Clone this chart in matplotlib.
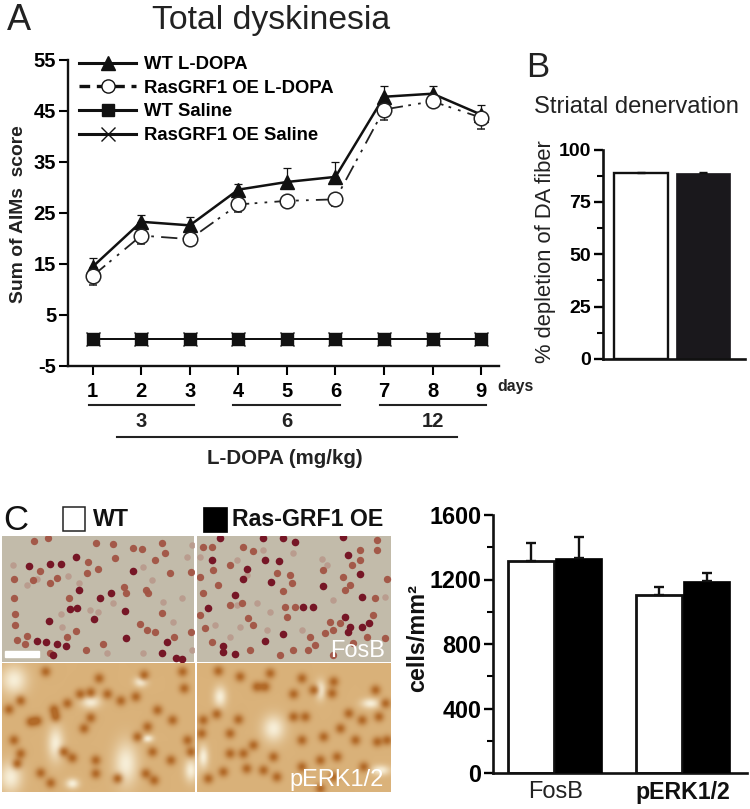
import numpy as np
import matplotlib
matplotlib.use('Agg')
import matplotlib.pyplot as plt
from matplotlib.lines import Line2D
from matplotlib.patches import Rectangle

plt.rcParams['font.family'] = ['Liberation Sans', 'DejaVu Sans']
plt.rcParams['axes.unicode_minus'] = False

W, H = 750, 809

# --- panel A data ---
days = [1, 2, 3, 4, 5, 6, 7, 8, 9]
wt_ldopa = [14.4, 23.2, 22.5, 29.5, 31.0, 32.0, 47.7, 48.3, 44.2]
wt_ldopa_err = [1.8, 1.4, 1.7, 1.2, 2.8, 3.0, 2.1, 1.5, 1.8]
oe_ldopa = [12.6, 20.5, 19.8, 26.6, 27.3, 27.6, 45.2, 46.8, 43.6]
oe_ldopa_err = [1.8, 1.7, 1.2, 1.5, 1.2, 1.4, 2.1, 1.0, 2.2]
wt_saline = [0.2, 0.2, 0.2, 0.2, 0.2, 0.2, 0.2, 0.2, 0.2]
oe_saline = [0.2, 0.2, 0.2, 0.2, 0.2, 0.2, 0.2, 0.2, 0.2]
legend_labels = ['WT L-DOPA', 'RasGRF1 OE L-DOPA', 'WT Saline', 'RasGRF1 OE Saline']
a_yticks = [-5, 5, 15, 25, 35, 45, 55]

# --- panel B data ---
depletion = [89.0, 89.0]
depletion_err = [0.4, 0.4]
b_yticks = [0, 25, 50, 75, 100]

# --- panel C bars ---
markers_c = ['FosB', 'pERK1/2']
cells_wt = [1315, 1103]
cells_wt_err = [109, 53]
cells_oe = [1336, 1191]
cells_oe_err = [126, 52]
c_yticks = [0, 400, 800, 1200, 1600]

# --- micrographs, nuclei (3x crop coordinates) ---
fos_dark = [(88, 228), (150, 222), (184, 222), (229, 200), (400, 242), (237, 300), (299, 324), (333, 310),
            (375, 362), (148, 392), (378, 445), (501, 455), (485, 490), (160, 495), (527, 505), (547, 508),
            (112, 452), (138, 455), (199, 467), (172, 463), (283, 388), (230, 354), (210, 356),
            (635, 210), (660, 145), (742, 237), (838, 213), (795, 210), (730, 268), (812, 275), (705, 315),
            (625, 355), (970, 287), (1087, 320), (910, 350), (940, 352), (1108, 400), (1050, 410), (1043, 425),
            (1085, 410), (850, 432), (795, 452), (668, 467), (670, 487), (705, 493), (1043, 195), (1080, 253),
            (1035, 380), (1030, 140), (790, 145), (850, 143), (885, 155)]
fos_mid = [(42, 267), (42, 325), (44, 372), (44, 405), (52, 450), (76, 463), (82, 437), (120, 243), (100, 270),
           (150, 280), (172, 263), (208, 325), (260, 250), (295, 237), (345, 205), (288, 160), (340, 162),
           (400, 175), (426, 178), (495, 188), (465, 210), (485, 160), (145, 143), (102, 153), (265, 215),
           (574, 245), (510, 250), (372, 290), (378, 310), (437, 300), (445, 310), (485, 368), (420, 403),
           (440, 420), (465, 425), (523, 440), (573, 425), (310, 462), (258, 480), (228, 422), (200, 442),
           (150, 490), (610, 170), (635, 170), (730, 172), (760, 183), (690, 226), (640, 240), (600, 262),
           (655, 285), (610, 310), (725, 340), (690, 345), (830, 248), (870, 255), (875, 280), (850, 302),
           (855, 350), (885, 350), (970, 240), (1030, 260), (1050, 285), (1035, 300), (1055, 225), (1080, 210),
           (1130, 180), (1130, 150), (1160, 268), (1125, 325), (1120, 375), (1080, 180), (990, 395), (1020, 400),
           (1000, 420), (930, 440), (945, 465), (925, 480), (975, 430), (1155, 445), (1100, 440), (1060, 460),
           (635, 455), (615, 415), (600, 375), (760, 405), (745, 385), (860, 380), (750, 480), (880, 480),
           (1000, 495), (840, 495)]
fos_light = [(40, 225), (205, 258), (236, 280), (80, 285), (110, 268), (183, 372), (270, 360), (295, 365),
             (185, 412), (340, 340), (490, 335), (545, 325), (430, 232), (560, 200), (575, 165), (455, 270),
             (520, 395), (575, 480), (320, 490), (430, 490), (710, 210), (790, 180), (880, 190), (965, 208),
             (980, 225), (645, 405), (710, 345), (770, 340), (740, 255), (810, 365), (600, 200), (1000, 330),
             (1155, 320), (690, 440), (800, 420), (720, 410), (905, 420)]
erk_nuclei = [(60, 632), (110, 692), (90, 695), (550, 595), (515, 690), (360, 632), (320, 612), (270, 607),
              (238, 612), (160, 658), (135, 545), (200, 640), (250, 715), (270, 683), (295, 565), (470, 660),
              (440, 710), (410, 740), (40, 750), (60, 790), (50, 820), (120, 848), (150, 878), (215, 803),
              (190, 785), (285, 810), (285, 850), (350, 865), (435, 850), (460, 870), (510, 810), (455, 785),
              (560, 750), (570, 785), (405, 620), (430, 555), (545, 545), (165, 680), (25, 658),
              (655, 543), (720, 560), (810, 550), (795, 590), (770, 590), (880, 612), (940, 600), (995, 610),
              (1000, 575), (905, 565), (1125, 600), (1155, 640), (650, 672), (715, 688), (610, 690), (605, 730),
              (690, 730), (760, 765), (730, 790), (690, 790), (820, 800), (905, 750), (915, 680), (880, 680),
              (1045, 670), (1085, 690), (1135, 680), (1020, 715), (970, 740), (1065, 750), (1130, 755),
              (1160, 750), (670, 845), (625, 865), (740, 835), (790, 840), (830, 860), (905, 830), (960, 810),
              (1010, 800), (1090, 830), (1000, 860), (960, 895)]
erk_pale = [(40, 570, 28, 30), (165, 760, 17, 36), (375, 820, 25, 45), (30, 860, 24, 32), (570, 840, 14, 24),
            (270, 635, 20, 14), (420, 575, 14, 11), (215, 880, 14, 11), (440, 745, 12, 8),
            (820, 715, 24, 28), (660, 620, 14, 22), (1110, 640, 20, 11), (610, 800, 11, 24), (960, 600, 11, 20),
            (1140, 840, 20, 11)]


def px_axes(x0, y0, x1, y1):
    # axes from a box given in picture pixels (y down)
    return fig.add_axes([x0 / W, 1 - y1 / H, (x1 - x0) / W, (y1 - y0) / H])


def px_text(x, y, s, **kw):
    kw.setdefault('ha', 'center')
    kw.setdefault('va', 'center')
    return fig.text(x / W, 1 - y / H, s, **kw)


def px_line(x0, x1, y, lw=1.5):
    fig.add_artist(Line2D([x0 / W, x1 / W], [1 - y / H, 1 - y / H], color='#222222', lw=lw))


def style_axes(ax, lw=1.7):
    for side in ['top', 'right']:
        ax.spines[side].set_visible(False)
    for side in ['left', 'bottom']:
        ax.spines[side].set_linewidth(lw)
        ax.spines[side].set_color('#111111')
    ax.patch.set_alpha(0)


fig = plt.figure(figsize=(W / 100, H / 100), dpi=100)

# --- panel A ---
ax = px_axes(68, 59.5, 499, 365.7)
style_axes(ax)
ax.set_ylim(-5, 55)
ax.set_xlim(1 - (92.7 - 68) / 48.55, 1 + (499 - 92.7) / 48.55)
ax.set_yticks(a_yticks)
ax.set_xticks(days)
ax.tick_params(axis='y', length=6.5, width=1.5, labelsize=14.5, pad=2)
ax.tick_params(axis='x', length=6.5, width=1.5, labelsize=14.5, pad=5)
for lab in ax.get_xticklabels() + ax.get_yticklabels():
    lab.set_fontweight('bold')

ax.errorbar(days, oe_ldopa, yerr=[oe_ldopa_err, [0] * 9], color='#222222', lw=1.3, capsize=3.2, capthick=0.9,
            elinewidth=0.9, dashes=(9, 3, 1.5, 4, 1.5, 4), marker='o', ms=10.5, mfc='white', mec='#222222',
            mew=1.1, zorder=4)
ax.errorbar(days, wt_ldopa, yerr=[[0] * 9, wt_ldopa_err], color='#111111', lw=1.8, capsize=3.2, capthick=0.9,
            elinewidth=0.9, marker='^', ms=9.5, mfc='#111111', mec='#111111', zorder=3)
ax.plot(days, oe_saline, color='#111111', lw=1.4, marker='x', ms=10, mew=1.0, zorder=3)
ax.plot(days, wt_saline, color='#111111', lw=1.4, marker='s', ms=8, zorder=3)

handles = [Line2D([], [], color='#111111', lw=2.2, marker='^', ms=9.5),
           Line2D([], [], color='#111111', lw=2.4, dashes=(3.2, 2), marker='o', ms=9.5, mfc='white', mew=1.0),
           Line2D([], [], color='#111111', lw=2.2, marker='s', ms=8.5),
           Line2D([], [], color='#111111', lw=2.2, marker='x', ms=10, mew=1.0)]
ax.legend(handles, legend_labels, loc='upper left', bbox_to_anchor=(0.0, 1.047), frameon=False,
          prop={'weight': 'bold', 'size': 13.3}, handlelength=3.1, handletextpad=0.4, labelspacing=0.36,
          borderpad=0.3, borderaxespad=0.3)

px_text(7, 30, 'A', ha='left', va='baseline', fontsize=26, color='#222222')
px_text(271, 29, 'Total dyskinesia', va='baseline', fontsize=24.3, color='#222222')
px_text(19, 214, 'Sum of AIMs  score', rotation=90, fontsize=13.9, fontweight='bold', color='#222222')
px_text(497, 387, 'days', ha='left', fontsize=11.4, fontweight='bold', color='#222222')
px_line(89, 194, 405)
px_line(233, 340, 405)
px_line(380, 486, 405)
px_line(117, 457, 437)
px_text(141, 422, '3', fontsize=14.5, fontweight='bold', color='#222222')
px_text(287, 422, '6', fontsize=14.5, fontweight='bold', color='#222222')
px_text(433, 422, '12', fontsize=14.5, fontweight='bold', color='#222222')
px_text(285, 459, 'L-DOPA (mg/kg)', fontsize=14.8, fontweight='bold', color='#222222')

# --- panel B ---
ax = px_axes(603, 149.5, 745, 359)
style_axes(ax, lw=1.9)
ax.set_ylim(0, 100)
ax.set_xlim(-38 / 62, 104 / 62)
ax.bar([0], depletion[:1], yerr=[[0], depletion_err[:1]], width=0.86, color='white', edgecolor='#111111', lw=1.7,
       error_kw=dict(ecolor='#111111', elinewidth=1, capsize=3, capthick=1))
ax.bar([1], depletion[1:], yerr=[[0], depletion_err[1:]], width=0.88, color='#1a181c', edgecolor='#1a181c', lw=0.5,
       error_kw=dict(ecolor='#111111', elinewidth=1, capsize=3, capthick=1))
ax.set_xticks([])
ax.set_yticks(b_yticks)
ax.set_yticks([12.5, 37.5, 62.5, 87.5], minor=True)
ax.tick_params(axis='y', which='major', length=6.5, width=1.7, labelsize=14, pad=2)
ax.tick_params(axis='y', which='minor', length=4, width=1.5)
for lab in ax.get_yticklabels():
    lab.set_fontweight('bold')
px_text(526, 77, 'B', ha='left', va='baseline', fontsize=25, color='#222222')
px_text(636, 107, 'Striatal denervation', fontsize=17.1, color='#222222')
px_text(546, 252, '% depletion of DA fiber', rotation=90, fontsize=15.8, color='#222222')

# --- panel C bars ---
ax = px_axes(493, 515, 747, 773)
style_axes(ax, lw=1.9)
ax.set_ylim(0, 1600)
ax.set_xlim(-62 / 128, 192 / 128)
x = np.arange(len(markers_c))
ax.bar(x - 0.185, cells_wt, yerr=[[0, 0], cells_wt_err], width=0.36, color='white', edgecolor='#111111', lw=2,
       error_kw=dict(ecolor='#111111', elinewidth=1.7, capsize=3.5, capthick=1.7), zorder=2)
ax.bar(x + 0.185, cells_oe, yerr=[[0, 0], cells_oe_err], width=0.37, color='black', edgecolor='black', lw=0.5,
       error_kw=dict(ecolor='#111111', elinewidth=1.7, capsize=3.5, capthick=1.7), zorder=3)
ax.set_xticks([])
ax.set_yticks(c_yticks)
ax.set_yticks([200, 600, 1000, 1400], minor=True)
ax.tick_params(axis='y', which='major', length=6.5, width=1.7, labelsize=16.8, pad=2)
ax.tick_params(axis='y', which='minor', length=4, width=1.5)
for lab in ax.get_yticklabels():
    lab.set_fontweight('bold')
px_text(418, 638, 'cells/mm²', rotation=90, fontsize=16.8, fontweight='bold', color='#111111')
px_text(556, 792, markers_c[0], fontsize=17, color='#222222')
px_text(683, 792, markers_c[1], fontsize=16.7, fontweight='bold', color='#111111')

# --- panel C micrographs ---
panel_x = [(5, 583), (592, 1172)]
panel_y = [(138, 515), (520, 905)]


def crop_axes(xr, yr):
    a = px_axes(xr[0] / 3, 490 + yr[0] / 3, xr[1] / 3, 490 + yr[1] / 3)
    a.set_xlim(*xr)
    a.set_ylim(yr[1], yr[0])
    a.axis('off')
    return a


for xr in panel_x:
    a = crop_axes(xr, panel_y[0])
    a.add_patch(Rectangle((xr[0], 138), xr[1] - xr[0], 377, color='#c2bbaa', zorder=0))
    for pts, col, size, alpha in [(fos_light, '#b8978a', 22, 0.85), (fos_mid, '#a25444', 28, 0.95),
                                  (fos_dark, '#761626', 30, 1.0)]:
        xs = [p[0] for p in pts]
        ys = [p[1] for p in pts]
        a.scatter(xs, ys, s=size, color=col, alpha=alpha, lw=0, zorder=2)

    # pERK field: soft brown nuclei and pale holes on a tan ground
    b = crop_axes(xr, panel_y[1])
    gx, gy = np.meshgrid(np.arange(xr[0], xr[1], 2.0), np.arange(520, 905, 2.0))
    dark = np.zeros_like(gx)
    pale = np.zeros_like(gx)
    for px, py in erk_nuclei:
        dark += np.exp(-((gx - px) ** 2 + (gy - py) ** 2) / (2 * 11.0 ** 2))
    for px, py, sx, sy in erk_pale:
        pale += np.exp(-((gx - px) ** 2 / (2 * sx ** 2) + (gy - py) ** 2 / (2 * sy ** 2)))
    dark = np.clip(dark, 0, 1)[..., None]
    pale = np.clip(pale, 0, 1)[..., None]
    base = np.array([218, 178, 122]) / 255
    img = base * (1 - pale) + np.array([247, 238, 215]) / 255 * pale
    img = img * (1 - dark) + np.array([178, 106, 40]) / 255 * dark
    b.imshow(img, extent=[xr[0], xr[1], 905, 520], aspect='auto', interpolation='bilinear')
    b.set_xlim(*xr)
    b.set_ylim(905, 520)

fig.add_artist(Rectangle((5 / W, 1 - 657 / H), 34 / W, 6 / H, color='white', transform=fig.transFigure, zorder=5))
px_text(358, 651, 'FosB', ha='center', fontsize=17, color='white', zorder=6)
px_text(337, 780, 'pERK1/2', ha='center', fontsize=17, color='white', zorder=6)

px_text(3, 530, 'C', ha='left', va='baseline', fontsize=25, color='#111111')
fig.add_artist(Rectangle((62.5 / W, 1 - 531 / H), 22 / W, 24 / H, fc='white', ec='#222222', lw=1.1,
                         transform=fig.transFigure))
fig.add_artist(Rectangle((203 / W, 1 - 532 / H), 24 / W, 25 / H, fc='black', ec='black', lw=0.5,
                         transform=fig.transFigure))
px_text(93, 519.5, 'WT', ha='left', fontsize=16.7, fontweight='bold', color='#111111')
px_text(232, 519.5, 'Ras-GRF1 OE', ha='left', fontsize=16.7, fontweight='bold', color='#111111')

fig.savefig('out.png', dpi=100)
